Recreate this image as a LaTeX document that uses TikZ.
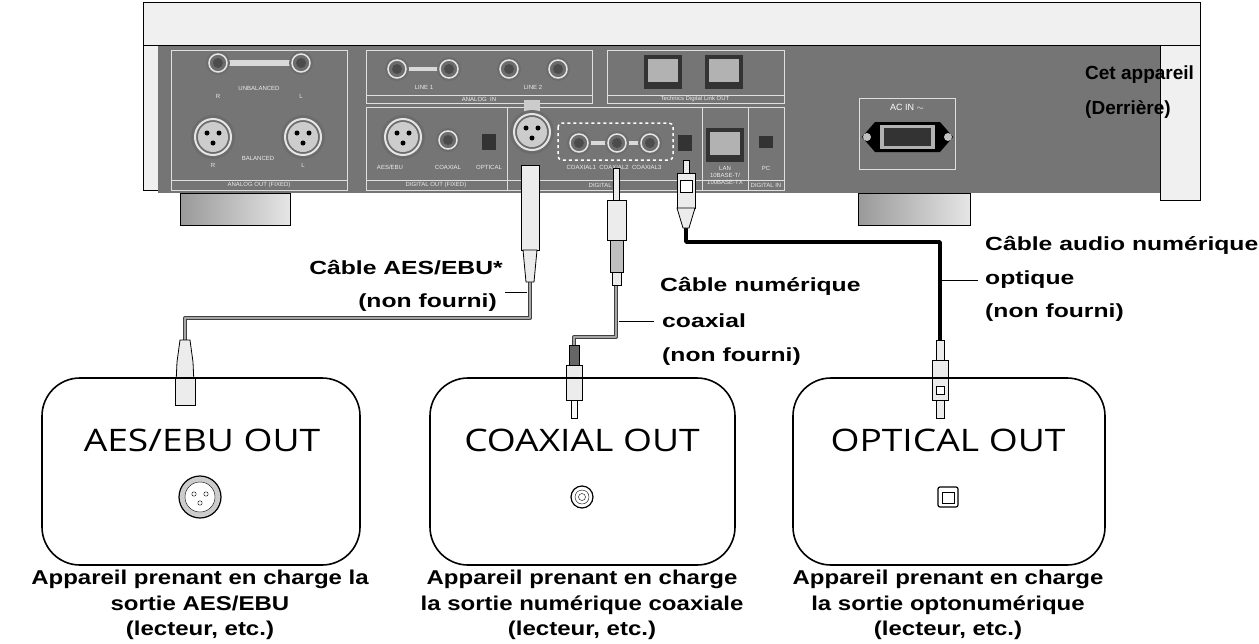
\documentclass[tikz,border=0pt]{standalone}
\usepackage{fontspec}
\setmainfont{Liberation Sans}
\newfontfamily\lblfont[FakeStretch=1.3]{Liberation Sans}
\newfontfamily\capfont[FakeStretch=1.2]{Liberation Sans}
\newfontfamily\boxfont[FakeStretch=1.2]{Open Sans}
\begin{document}
\begin{tikzpicture}[x=1pt,y=-1pt,
  lbl/.style={font=\lblfont\fontsize{19}{22}\selectfont\bfseries,inner sep=0pt},
  captxt/.style={font=\capfont\fontsize{20}{25.5}\selectfont\bfseries,align=center,inner sep=0pt},
  boxttl/.style={font=\boxfont\fontsize{31}{32}\selectfont,inner sep=0pt},
  outbox/.style={draw,line width=1.6pt,rounded corners=38pt},
  sect/.style={draw=gray!25,line width=0.6pt},
  tiny/.style={font=\fontsize{6}{7}\selectfont,text=gray!15,inner sep=0pt},
  gcable/.style={line width=4pt,draw=black!75,line join=round},
  gcablein/.style={line width=2pt,draw=gray!70,line join=round},
  plug/.style={draw=black,line width=0.8pt,fill=gray!15}]
\useasboundingbox (0,0) rectangle (1259,643);
\newcommand\RcaJack[2]{\fill[gray!85!black](#1,#2) circle (12);\draw[gray!20,line width=1.5pt](#1,#2) circle (9);\fill[black!70](#1,#2) circle (5);}
\newcommand\XlrJack[2]{\fill[gray!85!black](#1,#2) circle (22);\draw[gray!20,line width=2pt](#1,#2) circle (18);\fill[gray!40](#1,#2) circle (15);\fill[black](#1-6,#2-4) circle (2.5);\fill[black](#1+6,#2-4) circle (2.5);\fill[black](#1,#2+6) circle (2.5);}
\newcommand\RjJack[2]{\fill[black!80](#1-19,#2-17) rectangle (#1+19,#2+17);\fill[gray!60](#1-15,#2-13) rectangle (#1+15,#2+10);}
% device
\draw[fill=gray!12,line width=1pt] (143,2) rectangle (1200,190);
\fill[gray!65!black!80] (158,45) rectangle (1160,193);
\draw[line width=0.8pt] (143,45) -- (1160,45);
\draw[fill=gray!12,line width=1pt] (1160,45) rectangle (1200,200);
\shade[left color=gray!80,right color=gray!20,draw=black] (180,193) rectangle (290,225);
\shade[left color=gray!80,right color=gray!20,draw=black] (858,193) rectangle (970,225);
% sections
\draw[sect] (171,50) rectangle (347,190); \draw[sect] (171,180)--(347,180);
\node[tiny] at (259,185) {ANALOG OUT (FIXED)};
\draw[sect] (366,50) rectangle (592,103); \draw[sect] (366,95)--(592,95);
\node[tiny] at (479,99) {ANALOG \ IN};
\draw[sect] (607,50) rectangle (784,103); \draw[sect] (607,95)--(784,95);
\node[tiny] at (695,99) {Technics Digital Link OUT};
\draw[sect] (366,107) rectangle (507,190); \draw[sect] (366,180)--(784,180);
\node[tiny] at (436,185) {DIGITAL OUT (FIXED)};
\draw[sect] (507,107) rectangle (702,190);
\node[tiny] at (604,185) {DIGITAL IN};
\draw[sect] (702,107) rectangle (748,190);
\draw[sect] (748,107) rectangle (784,190);
\node[tiny] at (766,185) {DIGITAL IN};
\draw[sect] (859,98) rectangle (955,169);
\node[font=\fontsize{9}{10}\selectfont,text=white] at (907,107) {AC IN $\sim$};
\fill[black] (862,137) -- (875,122) -- (940,122) -- (953,137) -- (940,152) -- (875,152) -- cycle;
\fill[gray!60] (880,125) rectangle (935,149);\fill[black!80] (884,128) rectangle (931,146);
\fill[gray!50] (867,137) circle (4); \fill[gray!50] (948,137) circle (4);
% analog out
\fill[gray!30] (218,60) rectangle (301,66);
\RcaJack{218}{63}\RcaJack{301}{63}
\node[tiny] at (259,88) {UNBALANCED};
\node[tiny] at (218,96) {R};\node[tiny] at (301,96) {L};
\XlrJack{213}{137}\XlrJack{303}{137}
\node[tiny] at (258,158) {BALANCED};
\node[tiny] at (213,165) {R};\node[tiny] at (303,165) {L};
% analog in
\fill[gray!30] (397,67) rectangle (449,71);
\RcaJack{397}{69}\RcaJack{449}{69}\RcaJack{509}{69}\RcaJack{558}{69}
\node[tiny] at (424,87) {LINE 1};\node[tiny] at (533,87) {LINE 2};
% link out
\RjJack{663}{72}\RjJack{724}{72}
% digital out
\XlrJack{403}{137}\RcaJack{448}{140}
\fill[black!80] (482,134) rectangle (496,150);
\node[tiny] at (390,167) {AES/EBU};\node[tiny] at (448,167) {COAXIAL};\node[tiny] at (489,167) {OPTICAL};
% digital in
\fill[gray!40] (524,100) rectangle (540,112);
\XlrJack{532}{132}
\draw[white,dashed,line width=1.5pt,rounded corners=4pt] (558,123) rectangle (673,160);
\fill[gray!30] (579,141) rectangle (650,145);
\RcaJack{579}{143}\RcaJack{617}{143}\RcaJack{650}{143}
\fill[black!80] (678,135) rectangle (692,151);
\node[tiny] at (614,167) {COAXIAL1 \ COAXIAL2 \ COAXIAL3};
\RjJack{725}{145}
\node[tiny,align=center] at (725,175) {LAN\\10BASE-T/\\100BASE-TX};
\fill[black!80] (759,136) rectangle (773,148);
\node[tiny] at (766,168) {PC};
% cables
\coordinate (aesT) at (530,282); \coordinate (aesB) at (185,340);
\coordinate (coxT) at (616,285); \coordinate (coxB) at (574,345);
\coordinate (optT) at (686,228); \coordinate (optB) at (940,340);
\draw[gcable] (aesT) |- (185,318) -- (aesB);
\draw[gcablein] (aesT) |- (185,318) -- (aesB);
\draw[gcable] (coxT) |- (574,337) -- (coxB);
\draw[gcablein] (coxT) |- (574,337) -- (coxB);
\draw[line width=3.5pt,line join=round] (optT) |- (940,242) -- (optB);
% panel plugs
\draw[plug] (521,165) rectangle (539,250);
\draw[plug] (523,250) -- (537,250) -- (534,282) -- (526,282) -- cycle;
\draw[plug] (613,168) rectangle (619,200);
\draw[plug] (607,200) rectangle (626,240);
\draw[plug,fill=gray!50] (610,240) rectangle (623,272); \draw[plug] (612,272) rectangle (621,285);
\draw[plug] (683,160) rectangle (689,173);
\draw[plug] (677,173) rectangle (695,208); \draw[plug,fill=white] (680,180) rectangle (692,192);
\draw[plug] (677,208) -- (695,208) -- (689,228) -- (683,228) -- cycle;
% bottom plugs
\draw[plug] (180,340) -- (190,340) -- (193,362) -- (195,405) -- (175,405) -- (177,362) -- cycle;
\draw[plug,fill=black!60] (569,345) rectangle (579,365);
\draw[plug] (566,365) rectangle (582,400); \draw[plug,fill=gray!5] (571,400) rectangle (577,418);
\draw[plug] (936,340) rectangle (944,360); \draw[plug] (932,360) rectangle (948,400);
\draw[plug] (936,400) rectangle (944,418);
% boxes
\draw[outbox,fill=white] (42,378) rectangle (360,565);
\draw[outbox,fill=white] (430,378) rectangle (735,565);
\draw[outbox,fill=white] (793,378) rectangle (1105,565);
\draw[plug] (175,378) rectangle (195,405);
\draw[plug] (566,378) rectangle (582,400); \draw[plug,fill=gray!5] (571,400) rectangle (577,418);
\draw[plug] (932,378) rectangle (948,400); \draw[plug] (936,400) rectangle (944,418);
\draw[plug,fill=white] (936,386) rectangle (944,394);
\node[boxttl] (t1) at (202,440) {AES/EBU OUT};
\node[boxttl] (t2) at (582,440) {COAXIAL OUT};
\node[boxttl] (t3) at (948,440) {OPTICAL OUT};
\draw[line width=1.2pt,fill=gray!40] (200,497) circle (21); \draw[fill=white] (200,497) circle (15);
\foreach \p in {(194,494),(206,494),(200,503)} \draw \p circle (2.2);
\draw[line width=1.2pt] (582,497) circle (11); \draw (582,497) circle (7); \draw (582,497) circle (3.5);
\draw[line width=1.2pt,rounded corners=2pt] (938,487) rectangle (958,507);
\draw (942,492) rectangle (954,503);
% labels
\node[lbl,anchor=east] (l1) at (503,268) {Câble AES/EBU*};
\node[lbl,anchor=east] (l2) at (497,303) {(non fourni)};
\draw[line width=1pt] (505,292) -- (527,292);
\node[lbl,anchor=west] (c1) at (660,286) {Câble numérique};
\node[lbl,anchor=west] (c2) at (662,321) {coaxial};
\node[lbl,anchor=west] (c3) at (662,357) {(non fourni)};
\draw[line width=1pt] (619,321) -- (654,321);
\node[lbl,anchor=west] (o1) at (985,245) {Câble audio numérique};
\node[lbl,anchor=west] (o2) at (985,280) {optique};
\node[lbl,anchor=west] (o3) at (985,313) {(non fourni)};
\draw[line width=1pt] (942,280) -- (978,280);
\node[lbl,anchor=west,font=\fontsize{19}{22}\selectfont\bfseries] (d1) at (1085,75) {Cet appareil};
\node[lbl,anchor=west,font=\fontsize{19}{22}\selectfont\bfseries] (d2) at (1085,110) {(Derrière)};
\node[captxt] (b1) at (200,605) {Appareil prenant en charge la\\sortie AES/EBU\\(lecteur, etc.)};
\node[captxt] (b2) at (582,605) {Appareil prenant en charge\\la sortie numérique coaxiale\\(lecteur, etc.)};
\node[captxt] (b3) at (948,605) {Appareil prenant en charge\\la sortie optonumérique\\(lecteur, etc.)};
\end{tikzpicture}
\end{document}
